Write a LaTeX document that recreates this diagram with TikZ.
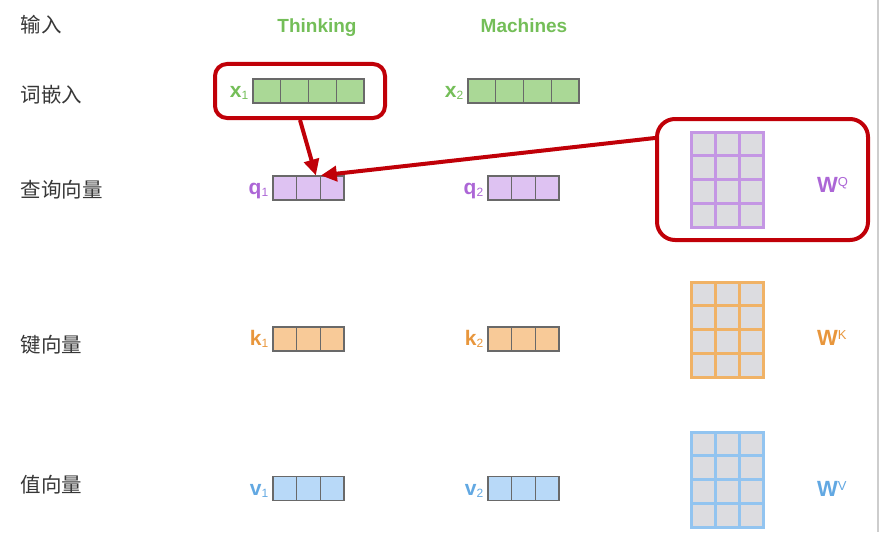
\documentclass[tikz,border=0pt]{standalone}
\usepackage{fontspec}
\setmainfont{Liberation Sans}
\newfontfamily\cjk{Noto Sans CJK SC}
\usetikzlibrary{calc,arrows.meta}

\definecolor{embgreen}{RGB}{170,216,150}
\definecolor{txtgreen}{RGB}{116,190,88}
\definecolor{qpurple}{RGB}{222,194,242}
\definecolor{txtpurple}{RGB}{172,102,214}
\definecolor{mpurple}{RGB}{196,150,228}
\definecolor{korange}{RGB}{248,202,152}
\definecolor{txtorange}{RGB}{232,150,60}
\definecolor{morange}{RGB}{240,178,102}
\definecolor{vblue}{RGB}{184,217,248}
\definecolor{txtblue}{RGB}{98,168,226}
\definecolor{mblue}{RGB}{146,196,240}
\definecolor{cellgray}{RGB}{220,220,224}
\definecolor{cellline}{RGB}{105,105,105}
\definecolor{hlred}{RGB}{192,0,8}
\definecolor{rowtext}{RGB}{55,55,55}
\definecolor{edgegray}{RGB}{205,205,205}

% labels with subscript / superscript
\newcommand\vlab[2]{\textbf{#1}\raisebox{-2pt}{\fontsize{12}{12}\selectfont #2}}
\newcommand\wlab[2]{\textbf{#1}\raisebox{6pt}{\fontsize{13}{13}\selectfont #2}}

\begin{document}
\begin{tikzpicture}[x=1pt,y=-1pt]
\tikzset{
% cells of the vectors and of the weight matrices
cell/.style={draw=cellline,line width=1.1,minimum height=24,inner sep=0},
ecell/.style={cell,minimum width=27.75,fill=embgreen},
vcell/.style={cell,minimum width=23.67},
mcell/.style={line width=3,minimum width=24,minimum height=23.75,inner sep=0,fill=cellgray},
rowname/.style={anchor=west,text=rowtext,font=\cjk\fontsize{20.5}{24}\selectfont},
word/.style={anchor=base,text=txtgreen,font=\fontsize{19}{22}\selectfont\bfseries},
vname/.style={inner sep=0,font=\fontsize{21}{24}\selectfont},
wname/.style={inner sep=0,anchor=base west,font=\fontsize{22}{24}\selectfont},
hlbox/.style={draw=hlred,line width=4,inner sep=0},
hlarrow/.style={hlred,line width=4,-{Triangle[length=16pt,width=15pt]}}
}
\useasboundingbox (0,0) rectangle (882,532);

% row names
\node[rowname] (r0) at (17,25) {输入};
\node[rowname] (r1) at (17,95) {词嵌入};
\node[rowname] (r2) at (17,190) {查询向量};
\node[rowname] (r3) at (17,345) {键向量};
\node[rowname] (r4) at (17,485) {值向量};

% input words
\node[word] (w1) at (317,33) {Thinking};
\node[word] (w2) at (524,33) {Machines};

% word embeddings
\foreach \i in {0,...,3}{
  \node[ecell] (x1-\i) at (266.9+27.75*\i,91) {};
  \node[ecell] (x2-\i) at (481.9+27.75*\i,91) {};
}
% query, key and value vectors
\foreach \v/\y/\c in {q/188/qpurple,k/339/korange,v/488.5/vblue}{
  \foreach \i in {0,1,2}{
    \node[vcell,fill=\c] (\v1-\i) at (284.8+23.67*\i,\y) {};
    \node[vcell,fill=\c] (\v2-\i) at (499.8+23.67*\i,\y) {};
  }
}
% vector names
\foreach \v/\c in {x/txtgreen,q/txtpurple,k/txtorange,v/txtblue}
  \foreach \n in {1,2}
    \node[vname,text=\c,anchor=base east] (\v\n l) at ($(\v\n-0.south west)+(-4,-6)$) {\vlab{\v}{\n}};

% weight matrices
\foreach \m/\yt/\c in {wq/132/mpurple,wk/282/morange,wv/432/mblue}
  \foreach \r in {0,...,3}
    \foreach \k in {0,1,2}
      \node[mcell,draw=\c] (\m-\r\k) at (703+24*\k,\yt+11.9+23.75*\r) {};
\node[wname,text=txtpurple] (wql) at (817,192) {\wlab{W}{Q}};
\node[wname,text=txtorange] (wkl) at (817,345) {\wlab{W}{K}};
\node[wname,text=txtblue] (wvl) at (817,496) {\wlab{W}{V}};

% highlight boxes and arrows
\node[hlbox,minimum width=170,minimum height=54,rounded corners=12] (hx) at (300,91) {};
\node[hlbox,minimum width=211,minimum height=121,rounded corners=18] (hw) at (762.5,179.5) {};
\draw[hlarrow] (hx.south) -- ($(q1-1.north east)+(-5,0)$);
\draw[hlarrow] ($(hw.north west)+(0,21)$) -- (q1-1.north east);

% right edge
\draw[edgegray,line width=2.5] (878,0) -- (878,532);
\end{tikzpicture}
\end{document}
